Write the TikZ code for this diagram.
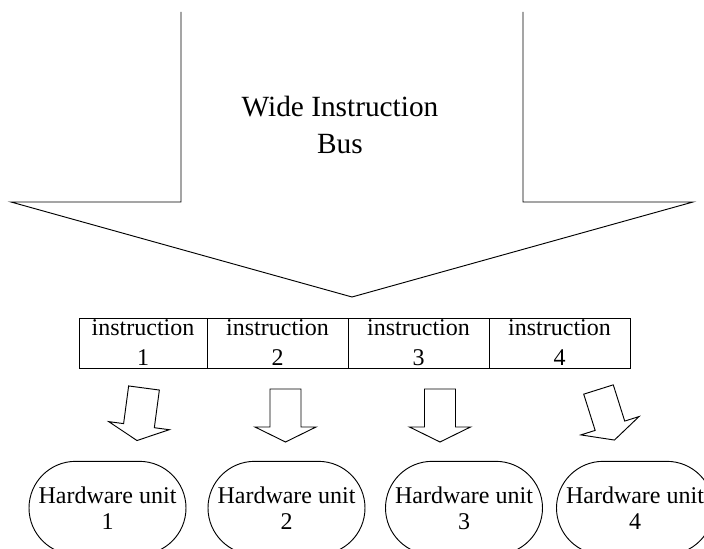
\documentclass[tikz,border=0pt]{standalone}
\usepackage{fontspec}
\setmainfont{Liberation Serif}
\usetikzlibrary{positioning,shapes.misc}

\begin{document}
\begin{tikzpicture}[
        x=0.75pt, y=-0.75pt,
        line width=0.7pt,
        insbox/.style={draw, align=center, inner sep=0pt, outer sep=0pt, minimum height=37.5pt, minimum width=105.75pt, font=\fontsize{18}{22.5}\selectfont},
        hwunit/.style={draw, rounded rectangle, align=center, inner sep=0pt, minimum width=117.75pt, minimum height=70pt, font=\fontsize{18}{19.5}\selectfont},
        hwarrow/.pic={\draw (-15.5,0) -- (15.5,0) -- (15.5,38) -- (30.5,38) -- (0,53) -- (-30.5,38) -- (-15.5,38) -- cycle;}
    ]
    \useasboundingbox (0,0) rectangle (704,549);
    \clip (0,0) rectangle (704,549);
    \draw (181,12) -- (181,202) -- (11,202) -- (352,297) -- (693,202) -- (523,202) -- (523,12);
    \node[font=\fontsize{22}{28}\selectfont, align=center] (bus) at (340,125) {Wide Instruction\\Bus};
    \node[insbox, minimum width=96pt] (ins1) at (143,343) {instruction\\1};
    \node[insbox, right=0pt of ins1] (ins2) {instruction\\2};
    \node[insbox, right=0pt of ins2] (ins3) {instruction\\3};
    \node[insbox, right=0pt of ins3] (ins4) {instruction\\4};
    \path (144,388) pic[rotate=-7.6] {hwarrow};
    \path (285.5,389) pic {hwarrow};
    \path (440,389) pic {hwarrow};
    \path (598.5,389.5) pic[rotate=17.5] {hwarrow};
    \node[hwunit] (hw1) at (107.5,508) {Hardware unit\\1};
    \node[hwunit] (hw2) at (286.5,508) {Hardware unit\\2};
    \node[hwunit] (hw3) at (464,508) {Hardware unit\\3};
    \node[hwunit] (hw4) at (635,508) {Hardware unit\\4};
\end{tikzpicture}
\end{document}
